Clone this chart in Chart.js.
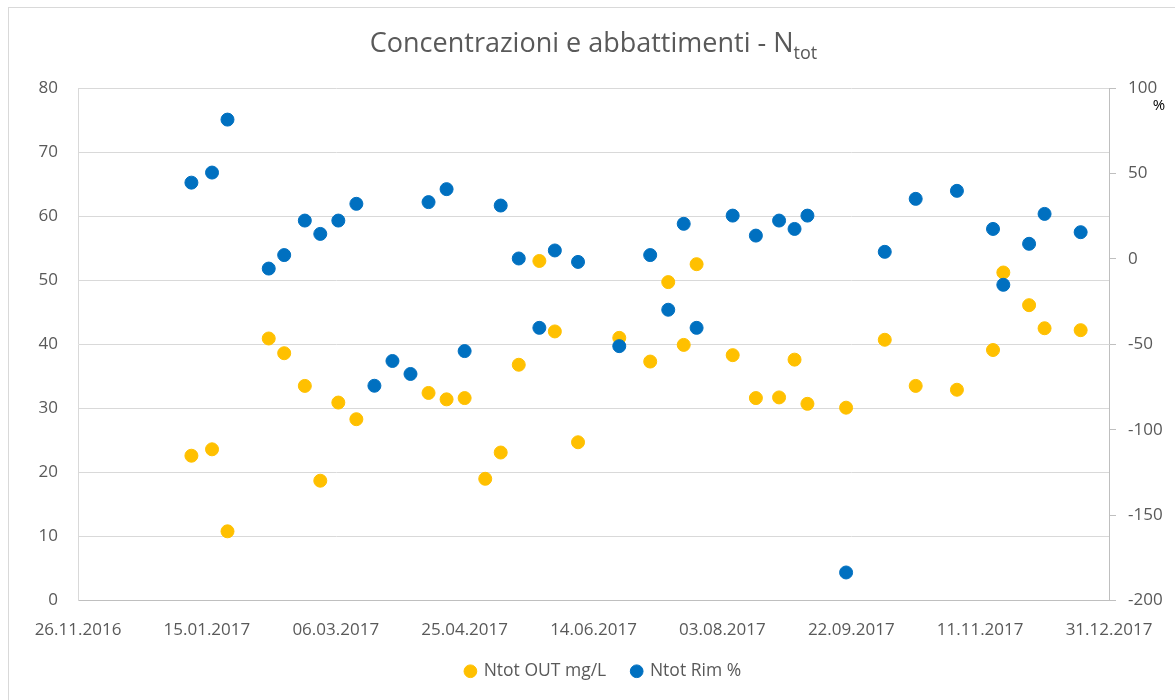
<!DOCTYPE html>
<html>
<head>
<meta charset="utf-8">
<script src="https://cdn.jsdelivr.net/npm/chart.js@4.4.0/dist/chart.umd.min.js"></script>
<style>
  body { margin: 0; background: #fff; }
  #wrap { position: relative; width: 1175px; height: 700px; overflow: hidden; }
  #frame { position: absolute; left: 8px; top: 7px; width: 1200px; height: 720px; border: 1px solid #d9d9d9; box-sizing: border-box; }
  #title { position: absolute; left: 6px; width: 1175px; top: 27px; line-height: 30px; text-align: center;
           font-family: "Open Sans", sans-serif; font-size: 27px; color: #595959; }
  #title sub { font-size: 18px; vertical-align: -7px; line-height: 0; }
  canvas { position: absolute; left: 0; top: 0; }
</style>
</head>
<body>
<div id="wrap">
  <div id="frame"></div>
  <canvas id="chart" width="1175" height="700"></canvas>
  <div id="title">Concentrazioni e abbattimenti - N<sub>tot</sub></div>
</div>
<script>
// Sample dates (dd.mm.yyyy)
const DATES = ["09.01.2017","17.01.2017","23.01.2017","08.02.2017","14.02.2017","22.02.2017","28.02.2017",
  "07.03.2017","14.03.2017","21.03.2017","28.03.2017","04.04.2017","11.04.2017","18.04.2017","25.04.2017",
  "03.05.2017","09.05.2017","16.05.2017","24.05.2017","30.05.2017","08.06.2017","24.06.2017","06.07.2017",
  "13.07.2017","19.07.2017","24.07.2017","07.08.2017","16.08.2017","25.08.2017","31.08.2017","05.09.2017",
  "20.09.2017","05.10.2017","17.10.2017","02.11.2017","16.11.2017","20.11.2017","30.11.2017","06.12.2017",
  "20.12.2017"];

// Ntot OUT mg/L (left axis)
const OUT_MGL = [22.6, 23.6, 10.8, 40.9, 38.6, 33.5, 18.7, 30.9, 28.3, null, null, null, 32.4, 31.4, 31.6,
  19.0, 23.1, 36.8, 53.0, 42.0, 24.7, 41.0, 37.3, 49.7, 39.9, 52.5, 38.3, 31.6, 31.7, 37.6, 30.7,
  30.1, 40.7, 33.5, 32.9, 39.1, 51.2, 46.1, 42.5, 42.2];

// Ntot Rim % (right axis)
const RIM_PCT = [44.6, 50.5, 81.5, -5.7, 2.2, 22.4, 14.6, 22.4, 32.2, -74.3, -59.8, -67.4, 33.2, 40.8, -54.0,
  null, 31.2, 0.2, -40.4, 4.9, -1.8, -51.1, 2.2, -29.8, 20.5, -40.4, 25.3, 13.6, 22.4, 17.5, 25.3,
  -183.6, 4.1, 35.1, 39.8, 17.5, -15.2, 8.8, 26.3, 15.6];

const X_START = "26.11.2016";
const X_SPAN_DAYS = 400;
const X_STEP_DAYS = 50;

const SERIES_LABELS = ["Ntot OUT mg/L", "Ntot Rim %"];
const LEFT_TICKS = { min: 0, max: 80, step: 10 };
const RIGHT_TICKS = { min: -200, max: 100, step: 50 };

// --- helpers ---
const DAY_MS = 86400000;
function parseDate(s) {
  const [d, m, y] = s.split(".").map(Number);
  return Date.UTC(y, m - 1, d);
}
const startMs = parseDate(X_START);
const toDay = s => Math.round((parseDate(s) - startMs) / DAY_MS);
function fmtDay(v) {
  const d = new Date(startMs + v * DAY_MS);
  const p = n => String(n).padStart(2, "0");
  return p(d.getUTCDate()) + "." + p(d.getUTCMonth() + 1) + "." + d.getUTCFullYear();
}
function points(values) {
  return DATES.map((s, i) => ({ x: toDay(s), y: values[i] })).filter(p => p.y !== null);
}

const TICK_FONT = { family: "Open Sans", size: 17 };
const TICK_COLOR = "#595959";

// "%" label next to the right axis
const pctLabel = {
  id: "pctLabel",
  afterDraw(chart) {
    const s = chart.scales.y2;
    const c = chart.ctx;
    c.save();
    c.font = '15px "Open Sans"';
    c.fillStyle = "#000";
    c.textAlign = "center";
    c.textBaseline = "middle";
    c.fillText("%", s.right - 16, s.top + 18);
    c.restore();
  }
};

// nudge the legend a bit right, like the original
const legendShift = {
  id: "legendShift",
  afterLayout(chart) {
    if (chart.legend) { chart.legend.left += 16; chart.legend.right += 16; }
  }
};

new Chart(document.getElementById("chart").getContext("2d"), {
  type: "scatter",
  data: {
    datasets: [
      { label: SERIES_LABELS[0], data: points(OUT_MGL), yAxisID: "y", order: 2,
        backgroundColor: "#FFC000", borderColor: "#FFC000", pointRadius: 6.5, pointHoverRadius: 6.5 },
      { label: SERIES_LABELS[1], data: points(RIM_PCT), yAxisID: "y2", order: 1,
        backgroundColor: "#0070C0", borderColor: "#0070C0", pointRadius: 6.5, pointHoverRadius: 6.5 }
    ]
  },
  options: {
    responsive: false,
    animation: false,
    layout: { padding: { top: 88, bottom: 10, left: 0, right: 0 } },
    plugins: {
      tooltip: { enabled: false },
      legend: {
        position: "bottom",
        labels: {
          usePointStyle: true, pointStyle: "circle", boxWidth: 9, boxHeight: 9, padding: 26,
          color: TICK_COLOR, font: { family: "Open Sans", size: 17.5 },
          sort: (a, b) => a.datasetIndex - b.datasetIndex
        }
      }
    },
    scales: {
      x: {
        type: "linear", min: 0, max: X_SPAN_DAYS,
        ticks: { stepSize: X_STEP_DAYS, callback: v => fmtDay(v), color: TICK_COLOR, font: TICK_FONT, padding: 19, maxRotation: 0 },
        grid: { drawOnChartArea: false, drawTicks: false, color: "#bfbfbf" },
        border: { color: "#bfbfbf" },
        afterFit: s => { s.height = 36; }
      },
      y: {
        position: "left", min: LEFT_TICKS.min, max: LEFT_TICKS.max,
        ticks: { stepSize: LEFT_TICKS.step, color: TICK_COLOR, font: TICK_FONT, padding: 20 },
        grid: { color: "#d9d9d9", drawTicks: false },
        border: { color: "#d9d9d9" },
        afterFit: s => { s.width = 78; }
      },
      y2: {
        position: "right", min: RIGHT_TICKS.min, max: RIGHT_TICKS.max,
        ticks: { stepSize: RIGHT_TICKS.step, color: TICK_COLOR, font: TICK_FONT, padding: 12 },
        grid: { drawOnChartArea: false, tickLength: 7, color: "#bfbfbf" },
        border: { color: "#bfbfbf" },
        afterFit: s => { s.width = 66; }
      }
    }
  },
  plugins: [pctLabel, legendShift]
});
</script>
</body>
</html>
